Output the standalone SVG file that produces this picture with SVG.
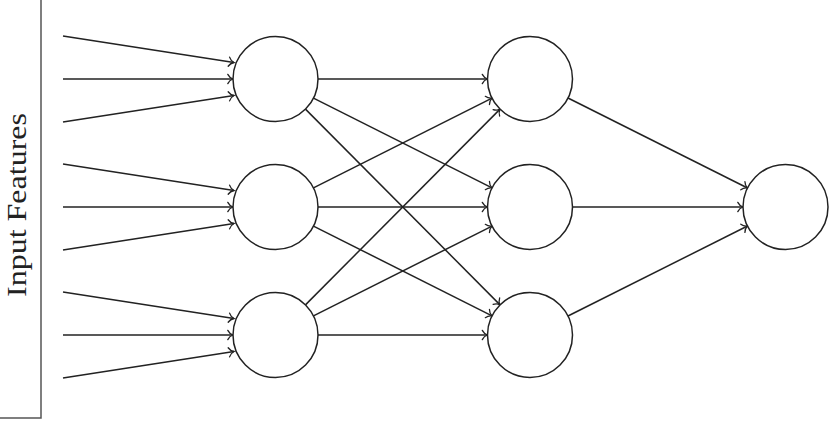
<svg xmlns="http://www.w3.org/2000/svg" width="833" height="424" viewBox="0 0 833 424">
  <style>
    .node { fill: #ffffff; stroke: #222222; stroke-width: 1.5; }
    .edge { stroke: #222222; stroke-width: 1.5; fill: none; marker-end: url(#arrow); }
    .frame { stroke: #555555; stroke-width: 1.5; fill: none; }
    .label { font-family: "Liberation Serif", "DejaVu Serif", serif; font-size: 27px; fill: #222222; }
  </style>
  <defs>
    <marker id="arrow" markerUnits="userSpaceOnUse" markerWidth="12" markerHeight="12" viewBox="-6 -6 12 12" refX="0" refY="0" orient="auto" overflow="visible">
      <path d="M-5.2,-4.6 C-3.9,-2 -1.4,-0.45 0,0 C-1.4,0.45 -3.9,2 -5.2,4.6" fill="none" stroke="#222222" stroke-width="1.3" stroke-linecap="round"/>
    </marker>
  </defs>
  <rect width="833" height="424" fill="#ffffff"/>

  <g id="input-frame">
    <polyline class="frame" points="41,0 41,418 0,418"/>
    <text class="label" transform="translate(26,205) rotate(-90)" text-anchor="middle" textLength="184" lengthAdjust="spacingAndGlyphs">Input  Features</text>
  </g>

  <g id="connectors">
    <!-- inputs to hidden 1 -->
    <line class="edge" x1="63" y1="36" x2="234" y2="62.5"/>
    <line class="edge" x1="63" y1="79" x2="233" y2="79"/>
    <line class="edge" x1="63" y1="122" x2="234" y2="95.5"/>
    <line class="edge" x1="63" y1="164" x2="234" y2="190.5"/>
    <line class="edge" x1="63" y1="207" x2="233" y2="207"/>
    <line class="edge" x1="63" y1="250" x2="234" y2="223.5"/>
    <line class="edge" x1="63" y1="292" x2="234" y2="318.5"/>
    <line class="edge" x1="63" y1="335" x2="233" y2="335"/>
    <line class="edge" x1="63" y1="378" x2="234" y2="351.5"/>
    <!-- hidden 1 to hidden 2 -->
    <line class="edge" x1="318" y1="79" x2="487.5" y2="79"/>
    <line class="edge" x1="313.47" y1="98.09" x2="492.03" y2="187.91"/>
    <line class="edge" x1="305.46" y1="109.14" x2="500.04" y2="304.86"/>
    <line class="edge" x1="313.47" y1="187.91" x2="492.03" y2="98.09"/>
    <line class="edge" x1="318" y1="207" x2="487.5" y2="207"/>
    <line class="edge" x1="313.47" y1="226.09" x2="492.03" y2="315.91"/>
    <line class="edge" x1="305.46" y1="304.86" x2="500.04" y2="109.14"/>
    <line class="edge" x1="313.47" y1="315.91" x2="492.03" y2="226.09"/>
    <line class="edge" x1="318" y1="335" x2="487.5" y2="335"/>
    <!-- hidden 2 to output -->
    <line class="edge" x1="568" y1="98.03" x2="747.5" y2="187.97"/>
    <line class="edge" x1="572.5" y1="207" x2="743" y2="207"/>
    <line class="edge" x1="568" y1="315.97" x2="747.5" y2="226.03"/>
  </g>

  <g id="h1-1"><circle class="node" cx="275.5" cy="79" r="42.5"/></g>
  <g id="h1-2"><circle class="node" cx="275.5" cy="207" r="42.5"/></g>
  <g id="h1-3"><circle class="node" cx="275.5" cy="335" r="42.5"/></g>
  <g id="h2-1"><circle class="node" cx="530" cy="79" r="42.5"/></g>
  <g id="h2-2"><circle class="node" cx="530" cy="207" r="42.5"/></g>
  <g id="h2-3"><circle class="node" cx="530" cy="335" r="42.5"/></g>
  <g id="out"><circle class="node" cx="785.5" cy="207" r="42.5"/></g>
</svg>
